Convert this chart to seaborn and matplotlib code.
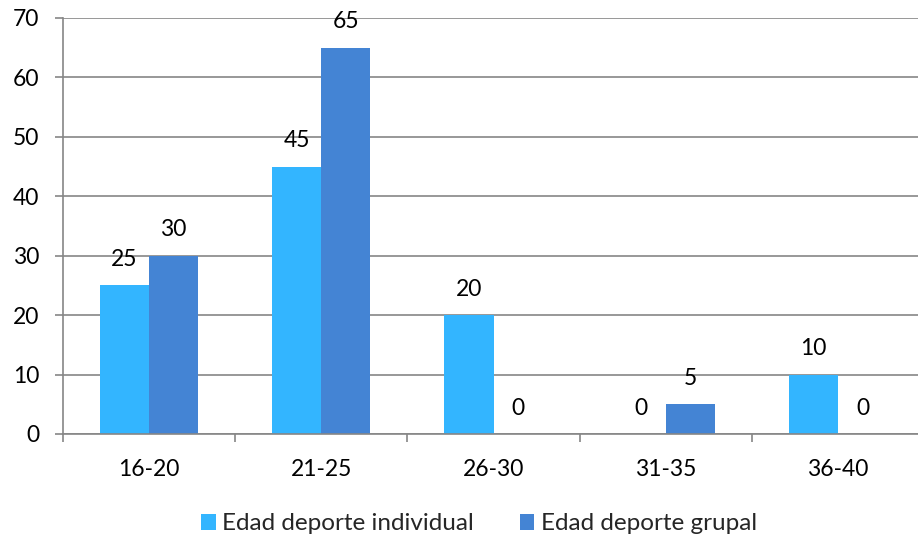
import matplotlib
matplotlib.use("Agg")
import matplotlib.pyplot as plt
import seaborn as sns
import pandas as pd

categories = ["16-20", "21-25", "26-30", "31-35", "36-40"]
individual = [25, 45, 20, 0, 10]
grupal = [30, 65, 0, 5, 0]
series_names = ["Edad deporte individual", "Edad deporte grupal"]
colors = ["#33B5FF", "#4484D4"]

df = pd.DataFrame({
    "Edad": categories * 2,
    "Valor": individual + grupal,
    "Serie": [series_names[0]] * len(categories) + [series_names[1]] * len(categories),
})

sns.set_theme(style="white")
plt.rcParams["font.family"] = ["Lato", "DejaVu Sans"]

fig = plt.figure(figsize=(9.18, 5.41), dpi=100)
# plot area runs slightly past the right edge of the canvas
ax = fig.add_axes([63 / 918, 1 - 434 / 541, (924 - 63) / 918, (434 - 18) / 541])

sns.barplot(data=df, x="Edad", y="Valor", hue="Serie", palette=colors,
            width=0.57, saturation=1, linewidth=0, ax=ax, legend=True)

ax.set_ylim(0, 70)
ax.set_xlim(-0.5, 4.5)
ax.set_yticks(range(0, 71, 10))
ax.yaxis.grid(True, color="#868686", linewidth=1.2)
ax.set_axisbelow(True)
ax.set_xlabel("")
ax.set_ylabel("")

for side in ["top", "right"]:
    ax.spines[side].set_visible(False)
for side in ["left", "bottom"]:
    ax.spines[side].set_color("#868686")
    ax.spines[side].set_linewidth(1.2)

ax.tick_params(axis="y", which="major", left=True, length=6, width=1.2,
               color="#868686", labelsize=16.5, pad=11, labelcolor="black")
ax.tick_params(axis="x", which="major", bottom=False, labelsize=16.5, pad=12,
               labelcolor="black")
# tick marks at category boundaries on the x axis
ax.set_xticks([x + 0.5 for x in range(-1, 5)], minor=True)
ax.tick_params(axis="x", which="minor", bottom=True, length=6, width=1.2,
               color="#868686")

for container in ax.containers:
    ax.bar_label(container, labels=[f"{v:g}" for v in container.datavalues],
                 padding=11, fontsize=16.5, color="black")

handles, labels = ax.get_legend_handles_labels()
ax.get_legend().remove()
fig.legend(handles, labels, loc="center", bbox_to_anchor=(479 / 918, 1 - 524 / 541),
           ncol=2, frameon=False, fontsize=17.5, handlelength=0.6,
           handleheight=0.6, handletextpad=0.25, columnspacing=1.9)

fig.savefig("out.png", dpi=100)
